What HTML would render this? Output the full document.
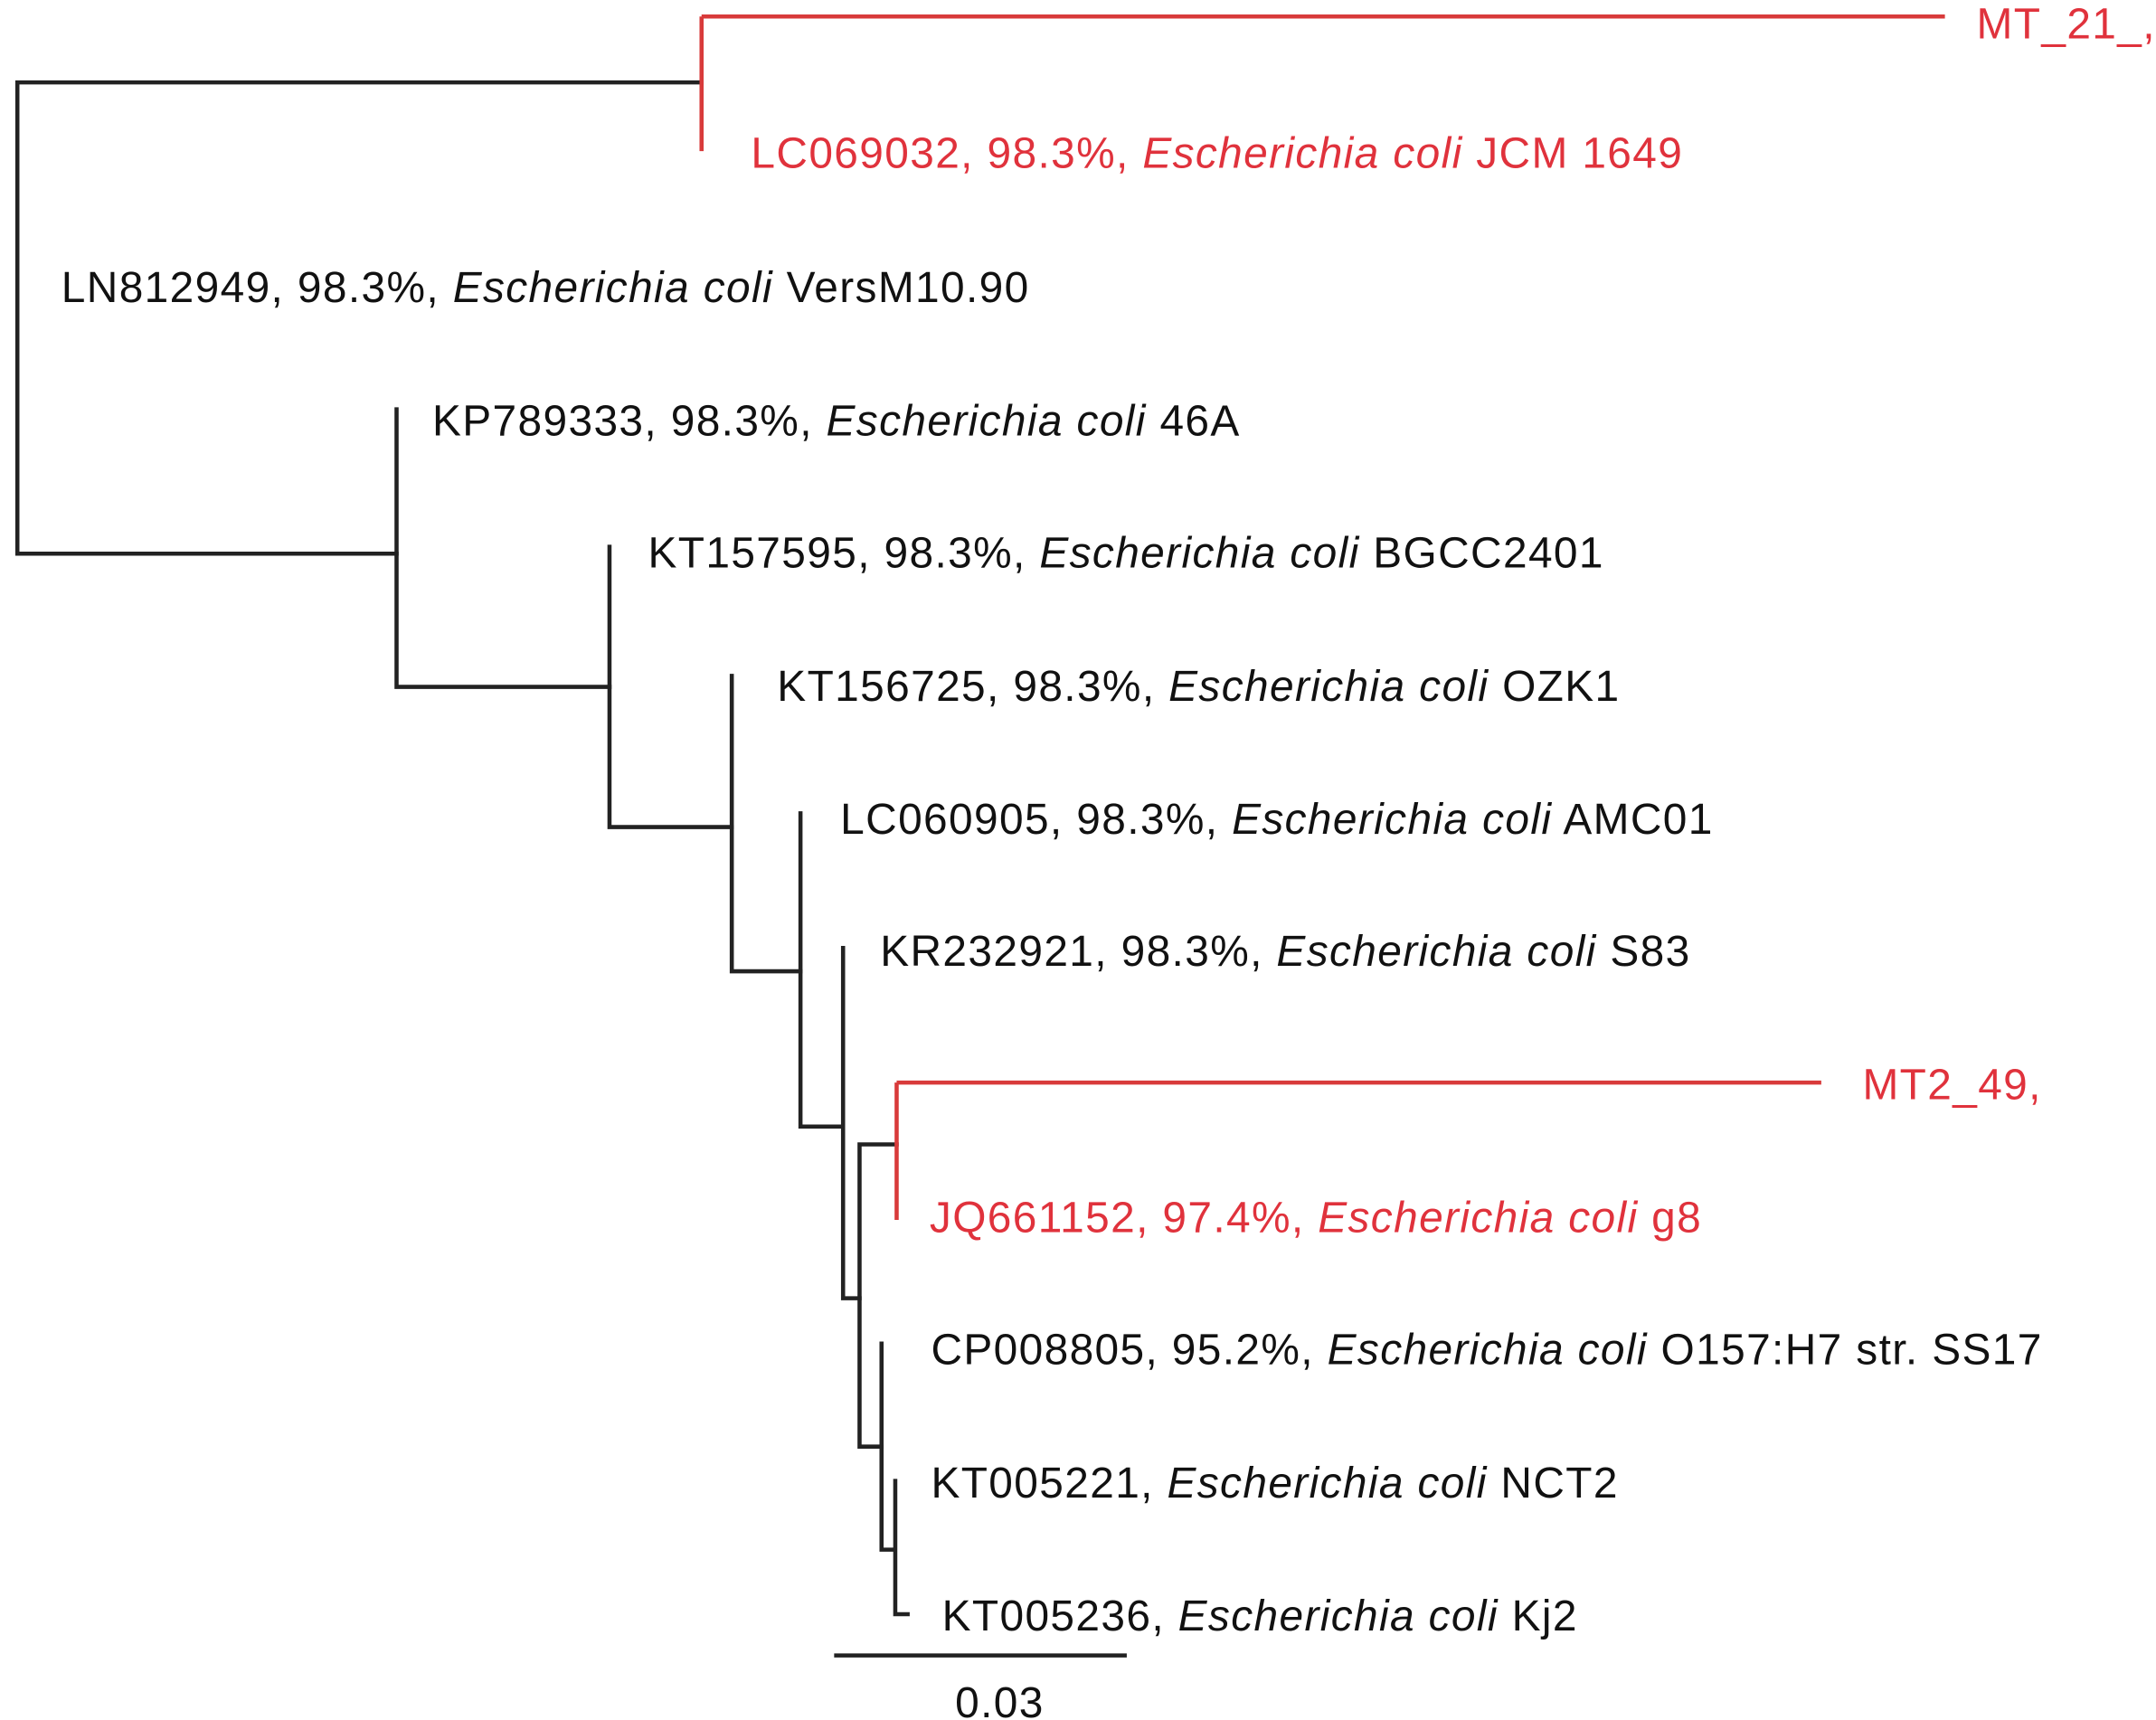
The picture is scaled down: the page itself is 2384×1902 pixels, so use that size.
<!DOCTYPE html>
<html><head><meta charset="utf-8"><style>
html,body{margin:0;padding:0;background:#fff;}
svg{display:block;}
text{font-family:"Liberation Sans",Arial,sans-serif;font-size:31.5px;letter-spacing:0.9px;fill:#111;}
.r{fill:#e0323c;}
</style></head><body>
<svg width="2384" height="1902" viewBox="0 0 1568 1252" xmlns="http://www.w3.org/2000/svg">
<g stroke="#222" stroke-width="3" fill="none" stroke-linecap="square">
<path d="M12 60V403M12 60H510M12 403H288"/>
<path d="M288 298V500M288 500H443"/>
<path d="M443 398V602M443 602H532"/>
<path d="M532 492V707M532 707H582"/>
<path d="M582 592V820M582 820H613"/>
<path d="M613 690V945M613 945H625"/>
<path d="M625 833V1053M625 833H652M625 1053H641"/>
<path d="M641 978V1128M641 1128H651M651 1078V1175M651 1175H660"/>
<path d="M608 1205H818"/>
</g>
<g stroke="#d83a3a" stroke-width="3" fill="none">
<path d="M510 12V110M510 12H1415"/>
<path d="M652 788V888M652 788H1325"/>
</g>
<text class="r" x="1438" y="28">MT_21_,</text>
<text class="r" x="546" y="122">LC069032, 98.3%, <tspan class="r" font-style="italic">Escherichia coli</tspan> JCM 1649</text>
<text x="44" y="220">LN812949, 98.3%, <tspan font-style="italic">Escherichia coli</tspan> VersM10.90</text>
<text x="314" y="317">KP789333, 98.3%, <tspan font-style="italic">Escherichia coli</tspan> 46A</text>
<text x="471" y="413">KT157595, 98.3%, <tspan font-style="italic">Escherichia coli</tspan> BGCC2401</text>
<text x="565" y="510">KT156725, 98.3%, <tspan font-style="italic">Escherichia coli</tspan> OZK1</text>
<text x="611" y="607">LC060905, 98.3%, <tspan font-style="italic">Escherichia coli</tspan> AMC01</text>
<text x="640" y="703">KR232921, 98.3%, <tspan font-style="italic">Escherichia coli</tspan> S83</text>
<text class="r" x="1355" y="800">MT2_49,</text>
<text class="r" x="676" y="897">JQ661152, 97.4%, <tspan class="r" font-style="italic">Escherichia coli</tspan> g8</text>
<text x="677" y="993">CP008805, 95.2%, <tspan font-style="italic">Escherichia coli</tspan> O157:H7 str. SS17</text>
<text x="677" y="1090">KT005221, <tspan font-style="italic">Escherichia coli</tspan> NCT2</text>
<text x="685" y="1187">KT005236, <tspan font-style="italic">Escherichia coli</tspan> Kj2</text>
<text x="727" y="1250" text-anchor="middle">0.03</text>
</svg>
</body></html>
